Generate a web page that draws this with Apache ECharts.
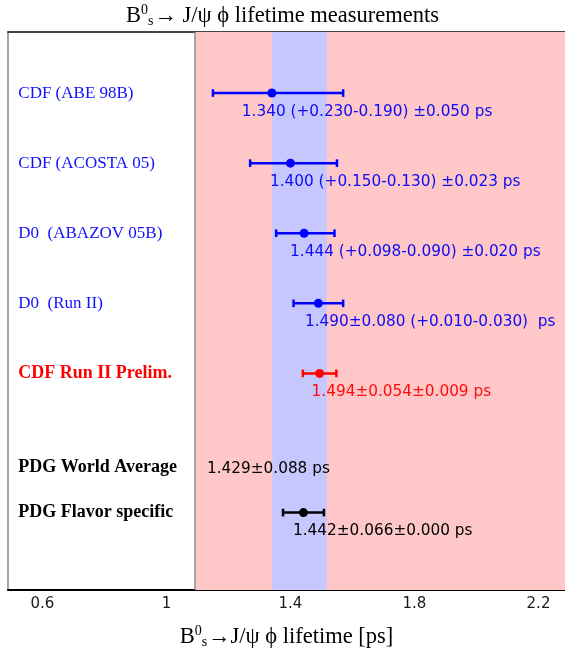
<!DOCTYPE html>
<html>
<head>
<meta charset="utf-8">
<script src="https://cdn.jsdelivr.net/npm/echarts@6/dist/echarts.min.js"></script>
<style>
html,body{margin:0;padding:0;background:#fff;}
#chart{width:565px;height:658px;}
</style>
</head>
<body>
<div id="chart"></div>
<script>
// ---- data ----
const categories = ['CDF (ABE 98B)', 'CDF (ACOSTA 05)', 'D0  (ABAZOV 05B)', 'D0  (Run II)', 'CDF Run II Prelim.', 'PDG World Average', 'PDG Flavor specific'];
const rowPos = [0.875, 1.88, 2.885, 3.89, 4.895, 6.235, 6.89];
const values = [1.340, 1.400, 1.444, 1.490, 1.494, 1.429, 1.442];
const errPlus = [0.230, 0.150, 0.098, 0.080, 0.054, 0.088, 0.066];
const errMinus = [0.190, 0.130, 0.090, 0.080, 0.054, 0.088, 0.066];
const valueTexts = ['1.340 (+0.230-0.190) \u00b10.050 ps', '1.400 (+0.150-0.130) \u00b10.023 ps', '1.444 (+0.098-0.090) \u00b10.020 ps', '1.490\u00b10.080 (+0.010-0.030)  ps', '1.494\u00b10.054\u00b10.009 ps', '1.429\u00b10.088 ps', '1.442\u00b10.066\u00b10.000 ps'];
const kinds = ['published', 'published', 'published', 'published', 'new', 'average', 'average'];
const bandIndex = 5;          // PDG world average drawn as a band
const regionStart = 1.094;    // start of shaded region
const tickValues = [0.6, 1, 1.4, 1.8, 2.2];

// ---- layout / style ----
const xMin = 0.489, xMax = 2.2855;
const labelDx = [-30, -20.5, -14, -13.4, -8, -92.5, -10.5];
const labelDy = [18.5, 18.5, 18.5, 18.5, 18.5, 2.5, 18.5];
const kindStyle = {
  published: {mark: '#0000ff', text: '#0c0cf5', row: '#1010ff', bold: false},
  new: {mark: '#ff0000', text: '#ff0a0a', row: '#ff0000', bold: true},
  average: {mark: '#000000', text: '#000000', row: '#000000', bold: true}
};

const chart = echarts.init(document.getElementById('chart'));

const barData = [], markerData = [], rowData = [];
categories.forEach((c, i) => {
  const st = kindStyle[kinds[i]];
  if (i !== bandIndex) {
    barData.push({value: [values[i] - errMinus[i], values[i] + errPlus[i], rowPos[i]], itemStyle: {color: st.mark}});
  }
  markerData.push({
    value: [values[i], rowPos[i]],
    symbolSize: i === bandIndex ? 0 : 9,
    itemStyle: {color: st.mark, opacity: 1},
    label: {
      show: true, formatter: valueTexts[i], position: 'inside', align: 'left', verticalAlign: 'middle',
      offset: [labelDx[i], labelDy[i]], color: st.text, opacity: 1, fontFamily: 'DejaVu Sans', fontSize: 15.3
    }
  });
  rowData.push({
    value: [xMin, rowPos[i]],
    itemStyle: {opacity: 1},
    label: {
      show: true, formatter: c, position: 'inside', align: 'left', verticalAlign: 'middle',
      offset: [10.3, 0], color: st.row, opacity: 1, fontFamily: 'Liberation Serif',
      fontSize: st.bold ? 18 : 17,
      fontWeight: st.bold ? 'bold' : 'normal'
    }
  });
});

function richFor(size, small) {
  return {
    m: {fontFamily: 'Liberation Serif', fontSize: size, fontWeight: 'normal', color: '#000', lineHeight: 28, verticalAlign: 'middle'},
    sup: {fontFamily: 'Liberation Serif', fontSize: small, fontWeight: 'normal', color: '#000', lineHeight: 28, verticalAlign: 'top', padding: [1, 0, 0, 0]},
    sub: {fontFamily: 'Liberation Serif', fontSize: small, fontWeight: 'normal', color: '#000', lineHeight: 28, verticalAlign: 'bottom', padding: [0, 1, 2, 0]}
  };
}

const option = {
  animation: false,
  title: {
    text: '{m|B}{sup|0}{sub|s}{m|\u2192 J/\u03c8 \u03d5 lifetime measurements}',
    left: 'center', top: 2,
    padding: [0, 5, 0, 5],
    textStyle: {fontWeight: 'normal', rich: richFor(22.5, 14)}
  },
  grid: {left: 8, right: 0, top: 32, bottom: 68},
  xAxis: [{
    type: 'value', min: xMin, max: xMax, position: 'bottom',
    axisLine: {show: true, onZero: false, lineStyle: {color: '#000', width: 2}},
    axisTick: {show: false},
    splitLine: {show: false},
    axisLabel: {customValues: tickValues, color: '#1a1a1a', fontFamily: 'DejaVu Sans', fontSize: 15, margin: 7},
    name: '{m|B}{sup|0}{sub|s}{m|\u2192J/\u03c8 \u03d5 lifetime [ps]}',
    nameLocation: 'middle', nameGap: 33,
    nameTextStyle: {rich: richFor(22.5, 14)}
  }, {
    type: 'value', min: xMin, max: xMax, position: 'top',
    axisLine: {show: true, onZero: false, lineStyle: {color: '#444', width: 2}},
    axisTick: {show: false}, axisLabel: {show: false}, splitLine: {show: false}
  }],
  yAxis: {
    type: 'value', min: 0, max: 8, inverse: true,
    axisLine: {show: true, onZero: false, lineStyle: {color: '#888', width: 1.5}},
    axisTick: {show: false}, axisLabel: {show: false}, splitLine: {show: false}
  },
  series: [
    {
      type: 'scatter', data: [], z: 1, silent: true,
      markArea: {silent: true, itemStyle: {color: '#ffc7c7', opacity: 1}, data: [[{xAxis: regionStart}, {xAxis: xMax}]]},
      markLine: {silent: true, symbol: 'none', label: {show: false}, lineStyle: {color: '#8a8a8a', width: 1.5, type: 'solid'}, data: [{xAxis: regionStart}]}
    },
    {
      type: 'scatter', data: [], z: 2, silent: true,
      markArea: {silent: true, itemStyle: {color: '#c7c7ff', opacity: 1}, data: [[{xAxis: values[bandIndex] - errMinus[bandIndex]}, {xAxis: values[bandIndex] + errPlus[bandIndex]}]]}
    },
    {
      type: 'custom', z: 5, silent: true,
      data: barData,
      renderItem: function (params, api) {
        const p1 = api.coord([api.value(0), api.value(2)]);
        const p2 = api.coord([api.value(1), api.value(2)]);
        const color = api.visual('color');
        const h = 3.8;
        const style = {stroke: color, lineWidth: 2.5};
        return {
          type: 'group',
          children: [
            {type: 'line', shape: {x1: p1[0], y1: p1[1], x2: p2[0], y2: p2[1]}, style: style},
            {type: 'line', shape: {x1: p1[0], y1: p1[1] - h, x2: p1[0], y2: p1[1] + h}, style: style},
            {type: 'line', shape: {x1: p2[0], y1: p2[1] - h, x2: p2[0], y2: p2[1] + h}, style: style}
          ]
        };
      }
    },
    {
      type: 'scatter', z: 6, silent: true, symbol: 'circle',
      itemStyle: {opacity: 1},
      data: markerData
    },
    {
      type: 'scatter', z: 6, silent: true, symbolSize: 0,
      itemStyle: {opacity: 1},
      data: rowData
    }
  ]
};
chart.setOption(option);
</script>
</body>
</html>
